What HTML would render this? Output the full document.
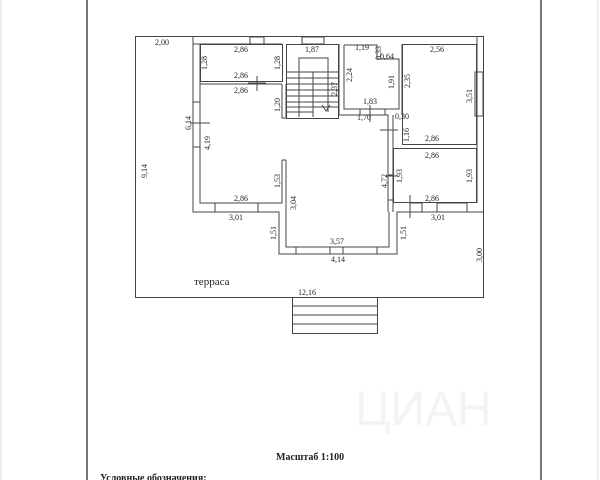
<!DOCTYPE html>
<html><head><meta charset="utf-8"><style>
html,body{margin:0;padding:0;background:#fff;width:600px;height:480px;overflow:hidden}
svg text{font-family:"Liberation Serif",serif;fill:#222}
svg text.wm{fill:#f3f3f3;font-family:"Liberation Sans",sans-serif}
</style></head><body>
<svg width="600" height="480" viewBox="0 0 600 480" xmlns="http://www.w3.org/2000/svg">
<g stroke="#ddd" stroke-width="1"><line x1="1" y1="0" x2="1" y2="480"/><line x1="598" y1="0" x2="598" y2="480"/></g>
<text class="wm" x="355" y="425" font-size="48">ЦИАН</text>
<g stroke="#555" stroke-width="1.6"><line x1="87" y1="0" x2="87" y2="480"/><line x1="541" y1="0" x2="541" y2="480"/></g>
<g fill="none" stroke="#444" stroke-width="1">
<rect x="135.5" y="36.5" width="348" height="261"/>
<polyline points="193,37 193,212 279,212 279,254 397,254 397,212 483,212"/>
<polyline points="200,44 200,203 282,203 282,160"/>
<polyline points="286,212 286,247 389,247 389,212"/>
<line x1="193" y1="44" x2="282" y2="44"/>
<rect x="200.5" y="44.5" width="82" height="37"/>
<line x1="200" y1="84" x2="282" y2="84"/>
<polyline points="282,84 282,118 286,118 286,84"/>
<line x1="282" y1="160" x2="286" y2="160"/><line x1="286" y1="160" x2="286" y2="212"/>
<rect x="250" y="37" width="14" height="7"/>
<rect x="302" y="37" width="22" height="7"/>
<rect x="215" y="203" width="43" height="9"/>
<rect x="296" y="247" width="34" height="7"/><rect x="343" y="247" width="34" height="7"/>
<rect x="410" y="203" width="12" height="9"/><rect x="437" y="203" width="30" height="9"/>
<rect x="475" y="72" width="8" height="44"/>
<line x1="193" y1="102" x2="200" y2="102"/><line x1="193" y1="147" x2="200" y2="147"/>
<rect x="286.5" y="44.5" width="52" height="74"/>
<polyline points="299,117 299,58 328,58 328,112"/>
<line x1="313" y1="72" x2="313" y2="117"/>
<g>
<line x1="286" y1="72" x2="339" y2="72"/><line x1="286" y1="78" x2="339" y2="78"/><line x1="286" y1="84" x2="339" y2="84"/>
<line x1="286" y1="90" x2="339" y2="90"/><line x1="286" y1="96" x2="339" y2="96"/><line x1="286" y1="102" x2="339" y2="102"/>
<line x1="286" y1="107" x2="339" y2="107"/><line x1="286" y1="112" x2="313" y2="112"/>
</g>
<polyline points="322,105 326,111 330,105"/>
<polyline points="344,45 377,45 377,59 399,59 399,109 344,109 344,45"/>
<polyline points="339,44 339,115 388,115 388,212"/>
<line x1="393" y1="115" x2="393" y2="212"/>
<rect x="360" y="109" width="25" height="6"/>
<rect x="402.5" y="44.5" width="74" height="100"/>
<rect x="393.5" y="148.5" width="83" height="54"/>
<line x1="477" y1="37" x2="477" y2="203"/>
<line x1="402" y1="44" x2="402" y2="115"/>
<line x1="388" y1="175" x2="393" y2="175"/><line x1="388" y1="200" x2="393" y2="200"/>
<line x1="248" y1="83" x2="266" y2="83"/><line x1="257" y1="76" x2="257" y2="91"/>
<line x1="190" y1="123" x2="210" y2="123"/>
<line x1="370" y1="105" x2="370" y2="122"/>
<line x1="380" y1="130" x2="398" y2="130"/>
<line x1="385" y1="176" x2="398" y2="176"/>
<line x1="410" y1="195" x2="410" y2="218"/>
<rect x="292.5" y="297.5" width="85" height="36"/>
<line x1="292" y1="306" x2="378" y2="306"/><line x1="292" y1="315" x2="378" y2="315"/><line x1="292" y1="324" x2="378" y2="324"/>
</g>
<g font-size="8">
<text x="155" y="45">2,00</text>
<text x="234" y="52">2,86</text><text x="234" y="78">2,86</text><text x="234" y="93">2,86</text>
<text x="234" y="201">2,86</text><text x="229" y="220">3,01</text>
<text x="305" y="52">1,87</text>
<text x="355" y="50">1,19</text><text x="380" y="59">0,64</text>
<text x="430" y="52">2,56</text><text x="425" y="141">2,86</text>
<text x="425" y="158">2,86</text><text x="425" y="201">2,86</text><text x="431" y="220">3,01</text>
<text x="363" y="104">1,83</text><text x="357" y="120">1,70</text><text x="395" y="119">0,30</text>
<text x="330" y="244">3,57</text><text x="331" y="262">4,14</text>
<text x="298" y="295">12,16</text>
<text x="194" y="285" font-size="11">терраса</text>
<text x="276" y="460" font-size="10" font-weight="bold">Масштаб 1:100</text>
<text x="100" y="481" font-size="10" font-weight="bold">Условные обозначения:</text>
</g>
<g font-size="8">
<text transform="translate(147,178) rotate(-90)">9,14</text>
<text transform="translate(191,130) rotate(-90)">6,14</text>
<text transform="translate(210,150) rotate(-90)">4,19</text>
<text transform="translate(207,70) rotate(-90)">1,28</text>
<text transform="translate(280,70) rotate(-90)">1,28</text>
<text transform="translate(280,112) rotate(-90)">1,20</text>
<text transform="translate(280,188) rotate(-90)">1,53</text>
<text transform="translate(296,210) rotate(-90)">3,04</text>
<text transform="translate(276,240) rotate(-90)">1,51</text>
<text transform="translate(406,240) rotate(-90)">1,51</text>
<text transform="translate(482,262) rotate(-90)">3,00</text>
<text transform="translate(337,96) rotate(-90)">2,37</text>
<text transform="translate(352,82) rotate(-90)">2,24</text>
<text transform="translate(381,60) rotate(-90)">0,33</text>
<text transform="translate(394,89) rotate(-90)">1,91</text>
<text transform="translate(410,88) rotate(-90)">2,35</text>
<text transform="translate(472,103) rotate(-90)">3,51</text>
<text transform="translate(409,142) rotate(-90)">1,16</text>
<text transform="translate(387,188) rotate(-90)">4,72</text>
<text transform="translate(402,183) rotate(-90)">1,93</text>
<text transform="translate(472,183) rotate(-90)">1,93</text>
</g>
</svg>
</body></html>
